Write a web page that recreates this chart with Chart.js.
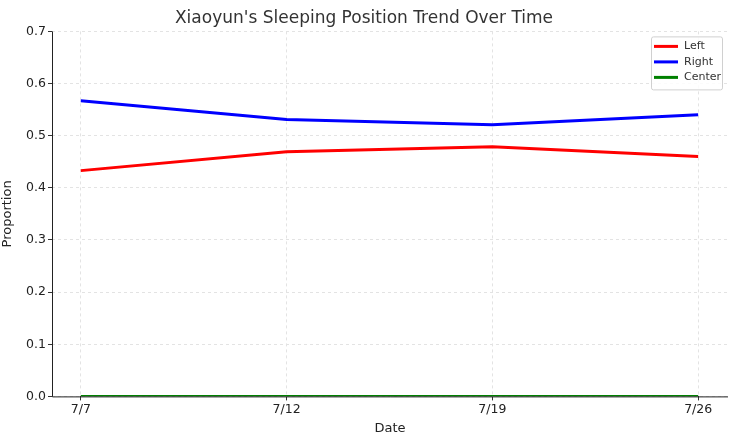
<!DOCTYPE html>
<html><head><meta charset="utf-8">
<script src="https://cdn.jsdelivr.net/npm/chart.js@4"></script>
<style>html,body{margin:0;padding:0;background:#fff}#w{width:740px;height:444px}</style>
</head><body><div id="w"><canvas id="c"></canvas></div>
<script>
const dates = ["7/7","7/12","7/19","7/26"];
const leftVals = [0.433,0.469,0.479,0.460];
const rightVals = [0.567,0.531,0.521,0.540];
const centerVals = [0,0,0,0];
const yTicks = [0,0.1,0.2,0.3,0.4,0.5,0.6,0.7];
const F = "'DejaVu Sans', sans-serif";
const pts = v => v.map((y,i)=>({x:i,y}));
const legendPlugin = {id:'lg', afterDraw(ch){
  const c=ch.ctx, a=ch.chartArea;
  c.save(); c.strokeStyle='#222'; c.lineWidth=1; c.beginPath();
  c.moveTo(a.left+0.5,a.top); c.lineTo(a.left+0.5,a.bottom+0.5); c.lineTo(a.right,a.bottom+0.5); c.stroke();
  const x0=a.right-77, y0=a.top+5, w=71, h=53;
  c.fillStyle='rgba(255,255,255,0.85)'; c.strokeStyle='#d0d0d0';
  c.beginPath(); c.roundRect(x0+0.5,y0+0.5,w,h,2); c.fill(); c.stroke();
  c.font='11px '+F; c.textBaseline='middle';
  ch.data.datasets.forEach((d,i)=>{const yy=y0+10+i*15.5;
    c.strokeStyle=d.borderColor; c.lineWidth=3; c.beginPath(); c.moveTo(x0+3,yy); c.lineTo(x0+27,yy); c.stroke();
    c.fillStyle='#333'; c.fillText(d.label,x0+33,yy);});
  c.restore();}};
new Chart(document.getElementById('c'),{type:'line',
 data:{datasets:[
  {label:'Left',data:pts(leftVals),borderColor:'#ff0000',borderWidth:3,pointRadius:0,tension:0},
  {label:'Right',data:pts(rightVals),borderColor:'#0000ff',borderWidth:3,pointRadius:0,tension:0},
  {label:'Center',data:pts(centerVals),borderColor:'#008000',borderWidth:3,pointRadius:0,tension:0}]},
 options:{animation:false,responsive:true,maintainAspectRatio:false,
  layout:{padding:{left:0,right:12,top:0,bottom:0}},
  plugins:{legend:{display:false},tooltip:{enabled:false},
   title:{display:true,text:"Xiaoyun's Sleeping Position Trend Over Time",color:'#333',font:{family:F,size:17,weight:'normal'},padding:{top:8,bottom:3}}},
  scales:{
   x:{type:'linear',min:-0.14,max:3.145,
    afterBuildTicks(s){s.ticks=dates.map((d,i)=>({value:i}));},
    ticks:{callback:v=>dates[v],color:'#222',font:{family:F,size:12.5},autoSkip:false,maxRotation:0,padding:2},
    grid:{color:'#e3e3e3',tickColor:'#333',tickLength:4,drawTicks:true},
    border:{display:false,dash:[3,3]},
    title:{display:true,text:'Date',color:'#222',font:{family:F,size:13},padding:{top:1,bottom:8}}},
   y:{min:0,max:0.7,
    afterBuildTicks(s){s.ticks=yTicks.map(v=>({value:v}));},
    ticks:{callback:v=>v.toFixed(1),color:'#222',font:{family:F,size:12.5},padding:2},
    grid:{color:'#e3e3e3',tickColor:'#333',tickLength:4},
    border:{display:false,dash:[3,3]},
    afterFit(s){s.width=52;},
    title:{display:true,text:'Proportion',color:'#222',font:{family:F,size:13},padding:{top:0,bottom:2}}}}},
 plugins:[legendPlugin]});
</script></body></html>
